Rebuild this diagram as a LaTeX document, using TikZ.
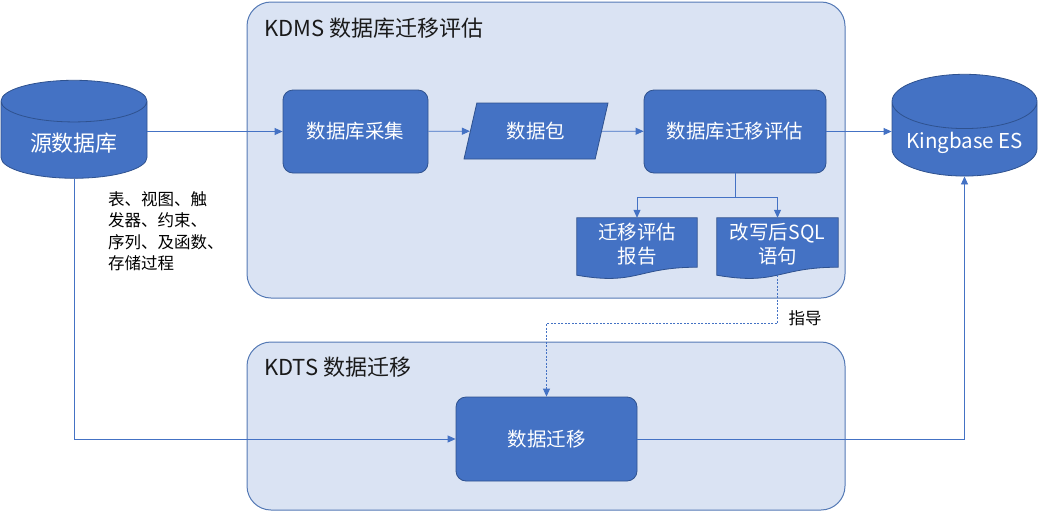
\documentclass[tikz,border=0pt]{standalone}
\usepackage{fontspec}
\setmainfont{Noto Sans CJK SC}
\usetikzlibrary{positioning,shapes.geometric,arrows.meta,calc}
\definecolor{boxblue}{HTML}{4472C4}
\definecolor{edgeblue}{HTML}{2F528F}
\definecolor{panelblue}{HTML}{DAE3F3}
\definecolor{panelline}{HTML}{5479B5}
\definecolor{linkblue}{HTML}{4472C4}
\definecolor{titlegray}{HTML}{1A1A1A}
\pgfdeclarelayer{back}
\pgfdeclarelayer{docs}
\pgfsetlayers{back,docs,main}

\begin{document}
\begin{tikzpicture}[
			x=1pt,
			y=-1pt,
			>={Triangle[length=8pt,width=7pt]},
			every node/.style={font=\fontsize{19.5}{24}\selectfont},
			panel/.style={draw=panelline, fill=panelblue, line width=1pt, rounded corners=24pt},
			paneltitle/.style={anchor=west, inner sep=0pt, text=titlegray, font=\fontsize{22}{26}\selectfont},
			procbox/.style={draw=edgeblue, fill=boxblue, text=white, line width=0.8pt, rounded corners=10pt},
			dbnode/.style={cylinder, shape border rotate=90, aspect=0.44, draw=edgeblue, fill=boxblue, text=white,
				line width=0.8pt, minimum width=146pt, minimum height=98pt},
			datanode/.style={trapezium, trapezium left angle=62.6, trapezium right angle=117.4, trapezium stretches body,
				draw=edgeblue, fill=boxblue, text=white, line width=0.8pt},
			docnode/.style={text=white, align=center, inner sep=2pt, minimum height=52pt},
			docshape/.style={draw=edgeblue, fill=boxblue, line width=0.8pt},
			link/.style={->, linkblue, line width=0.8pt},
			guide/.style={->, linkblue, line width=0.8pt, dash pattern=on 2pt off 1.5pt}
		]
			\useasboundingbox (0,0) rectangle (1039,512);

			\begin{pgfonlayer}{back}
				\node[panel, minimum width=598pt, minimum height=296pt] (kdms) at (546,150) {};
				\node[panel, minimum width=598pt, minimum height=168pt] (kdts) at (546,426) {};
			\end{pgfonlayer}
			\node[paneltitle] (kdmstitle) at (264,28) {KDMS 数据库迁移评估};
			\node[paneltitle] (kdtstitle) at (264,367) {KDTS 数据迁移};

			% databases
			\node[dbnode, font=\fontsize{22}{26}\selectfont] (srcdb) at (74,143) {源数据库};
			\node[dbnode, minimum width=145pt, font=\fontsize{20.5}{24}\selectfont] (kingbase) at (964.5,143) {Kingbase ES};

			% assessment chain
			\node[procbox, minimum width=145pt, minimum height=83pt] (collect) at (355.5,131.5) {数据库采集};
			\node[datanode, minimum width=144pt, minimum height=56pt] (pkg) at (536,131) {数据包};
			\node[procbox, minimum width=182pt, minimum height=83pt] (assess) at (735,131.5) {数据库迁移评估};

			\node[docnode, minimum width=120pt] (report) at (637,244) {迁移评估\\报告};
			\node[docnode, minimum width=121pt] (sqlout) at (777.5,244) {改写后SQL\\语句};
			\begin{pgfonlayer}{docs}
				\foreach \doc in {report, sqlout}{
					\filldraw[docshape] (\doc.north west) -- (\doc.north east)
						-- ($(\doc.south east)+(0,-3)$)
						.. controls ($(\doc.south)+(0,-3)$) and ($(\doc.south)+(0,15.5)$) .. ($(\doc.south west)+(0,5)$)
						-- cycle;
				}
			\end{pgfonlayer}

			\node[procbox, minimum width=181pt, minimum height=84pt] (migrate) at (546.5,439) {数据迁移};

			\node[anchor=west, align=left, inner sep=0pt, font=\fontsize{16.5}{21.5}\selectfont] (objtypes)
				at (108,231) {表、视图、触\\发器、约束、\\序列、及函数、\\存储过程};
			\node[inner sep=0pt, font=\fontsize{16.5}{20}\selectfont] (guidelabel) at (805,318) {指导};

			% connectors
			\draw[link] (srcdb.east |- collect) -- (collect);
			\draw[link] (collect) -- (pkg);
			\draw[link] (pkg) -- (assess);
			\draw[link] (assess) -- (kingbase.west |- assess);
			\draw[linkblue, line width=0.8pt] (assess.south) -- ++(0,24) coordinate (split);
			\draw[link] (split) -| (report.north);
			\draw[link] (split) -| (sqlout.north);
			\draw[link] (srcdb.south) |- (migrate.west);
			\draw[link] (migrate.east) -| (kingbase.south);
			\draw[guide] ([yshift=-5pt]sqlout.south) -- ++(0,48) -| (migrate.north);
		\end{tikzpicture}
\end{document}
